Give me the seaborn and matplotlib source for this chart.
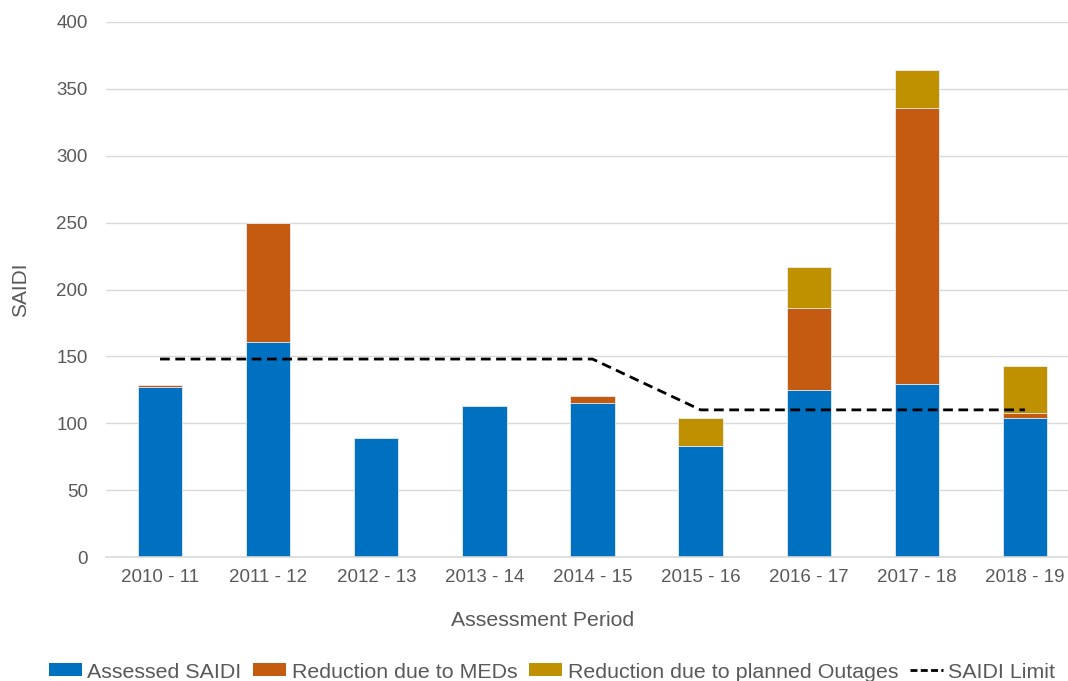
import numpy as np
import pandas as pd
import matplotlib
matplotlib.use("Agg")
import matplotlib.pyplot as plt
from matplotlib.patches import Patch
from matplotlib.lines import Line2D
import seaborn as sns

periods = ["2010 - 11", "2011 - 12", "2012 - 13", "2013 - 14", "2014 - 15",
           "2015 - 16", "2016 - 17", "2017 - 18", "2018 - 19"]
assessed = [127, 161, 89, 113, 115, 83, 125, 129, 104]
med_reduction = [1.5, 89, 0, 0, 5.5, 0, 61, 207, 4]
planned_reduction = [0, 0, 0, 0, 0, 21, 31, 28, 35]
saidi_limit = [148, 148, 148, 148, 148, 110, 110, 110, 110]

BLUE = "#0070C0"
ORANGE = "#C55A11"
GOLD = "#BF9000"
TEXT = "#595959"

sns.set_theme(style="white")
plt.rcParams["font.family"] = ["Liberation Sans", "DejaVu Sans"]

df = pd.DataFrame({
    "period": periods,
    "assessed": assessed,
    "med": med_reduction,
    "planned": planned_reduction,
    "limit": saidi_limit,
})
df["lvl1"] = df["assessed"]
df["lvl2"] = df["assessed"] + df["med"]
df["lvl3"] = df["lvl2"] + df["planned"]

fig = plt.figure(figsize=(10.68, 6.81), dpi=100)
ax = fig.add_axes([106 / 1068, (681 - 557) / 681, (1079 - 106) / 1068, (557 - 22) / 681])

# stacked bars drawn as cumulative layers, tallest first
for col, color in [("lvl3", GOLD), ("lvl2", ORANGE), ("lvl1", BLUE)]:
    sns.barplot(data=df, x="period", y=col, color=color, width=0.41,
                edgecolor="#E8EEF5", linewidth=0.6, saturation=1, ax=ax, zorder=2)

sns.lineplot(x=np.arange(len(periods)), y=df["limit"], color="black",
             linewidth=2.0, dashes=(3.5, 2), ax=ax, zorder=3)

ax.set_ylim(0, 400)
ax.set_xlim(-0.5, len(periods) - 0.5)
ax.set_yticks(np.arange(0, 401, 50))
ax.yaxis.grid(True, color="#D9D9D9", linewidth=1)
ax.set_axisbelow(True)
for s in ["top", "right", "left"]:
    ax.spines[s].set_visible(False)
ax.spines["bottom"].set_color("#D9D9D9")
ax.spines["bottom"].set_linewidth(1.2)
ax.tick_params(axis="both", length=0, labelsize=13.5, labelcolor=TEXT)
ax.tick_params(axis="y", pad=13)
ax.tick_params(axis="x", pad=9)

ax.set_xlabel("Assessment Period", fontsize=15.3, color=TEXT)
ax.xaxis.set_label_coords((543 - 106) / 973, -(620 - 557) / 535, transform=ax.transAxes)
ax.xaxis.label.set_va("center")
ax.set_ylabel("SAIDI", fontsize=15, color=TEXT)
ax.yaxis.set_label_coords(-(106 - 21) / 973, 0.5, transform=ax.transAxes)
ax.yaxis.label.set_va("center")

handles = [
    Patch(facecolor=BLUE, edgecolor="none"),
    Patch(facecolor=ORANGE, edgecolor="none"),
    Patch(facecolor=GOLD, edgecolor="none"),
    Line2D([0], [0], color="black", linewidth=2, dashes=(2.5, 1.2)),
]
labels = ["Assessed SAIDI", "Reduction due to MEDs",
          "Reduction due to planned Outages", "SAIDI Limit"]
leg = fig.legend(handles, labels, loc="center", bbox_to_anchor=(552 / 1068, 1 - 672 / 681),
                 ncol=4, frameon=False, fontsize=15.4, handlelength=1.55, handleheight=0.55,
                 handletextpad=0.25, columnspacing=0.55, borderpad=0)
for t in leg.get_texts():
    t.set_color(TEXT)

fig.savefig("out.png", dpi=100)
